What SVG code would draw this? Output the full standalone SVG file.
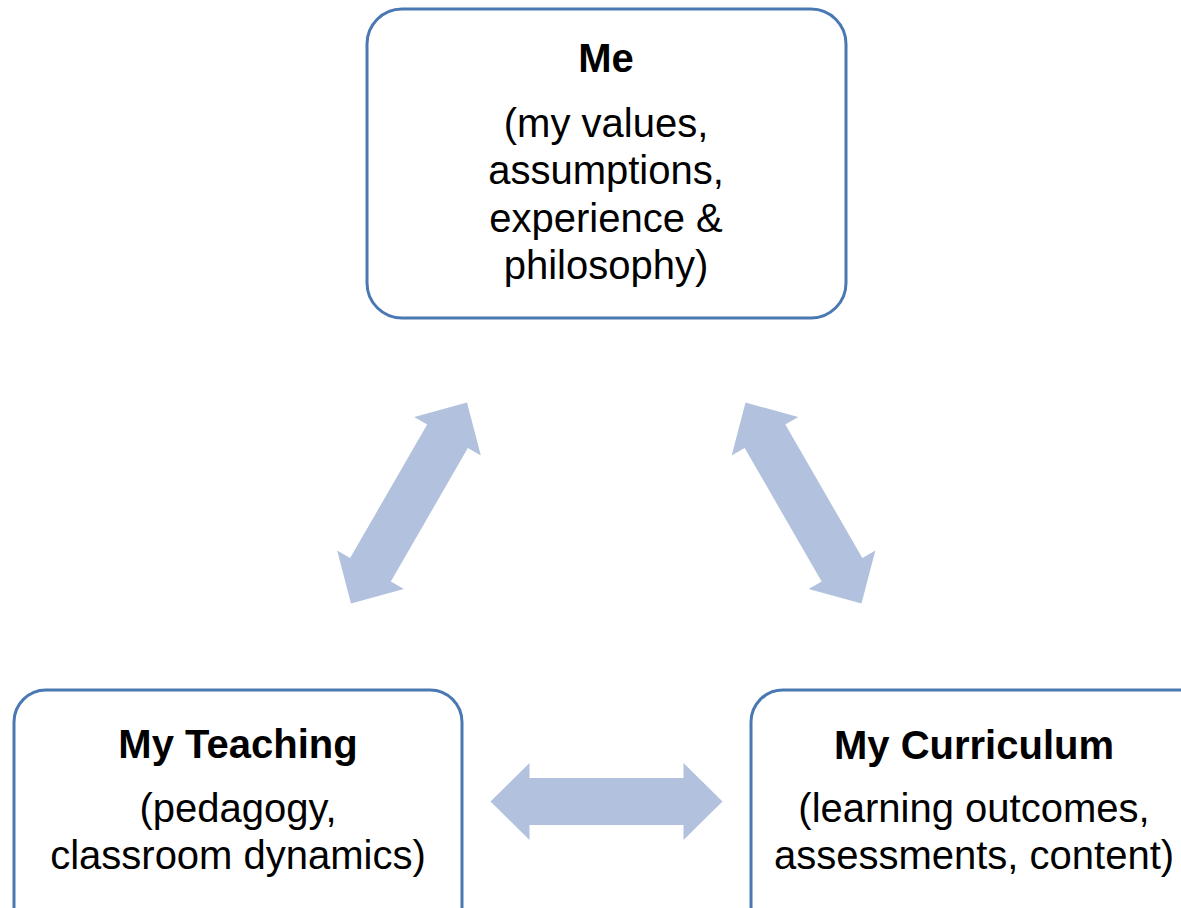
<svg xmlns="http://www.w3.org/2000/svg" width="1181" height="908" viewBox="0 0 1181 908">
<defs>
<style>
.box{fill:#ffffff;stroke:#4a78b2;stroke-width:3}
.arrow{fill:#b2c2de;stroke:none}
text{font-family:"Liberation Sans",Arial,sans-serif;font-size:40px;fill:#000;text-anchor:middle}
.title{font-weight:bold}
</style>
<path id="dbl" d="M-116,0 L-77,-38.5 L-77,-23.5 L77,-23.5 L77,-38.5 L116,0 L77,38.5 L77,23.5 L-77,23.5 L-77,38.5 Z"/>
</defs>
<rect width="1181" height="908" fill="#ffffff"/>
<g id="connectors">
<use href="#dbl" class="arrow" transform="translate(409,503) rotate(-60)"/>
<use href="#dbl" class="arrow" transform="translate(803.5,503) rotate(60)"/>
<use href="#dbl" class="arrow" transform="translate(606.5,801.5)"/>
</g>
<g id="me">
<rect class="box" x="367" y="9" width="479" height="309" rx="35"/>
<text class="title" x="606" y="72">Me</text>
<text x="606" y="137">(my values,</text>
<text x="606" y="184">assumptions,</text>
<text x="606" y="232">experience &amp;</text>
<text x="606" y="279">philosophy)</text>
</g>
<g id="teaching">
<rect class="box" x="14" y="690" width="448" height="250" rx="32"/>
<text class="title" x="238" y="758">My Teaching</text>
<text x="238" y="822">(pedagogy,</text>
<text x="238" y="869">classroom dynamics)</text>
</g>
<g id="curriculum">
<rect class="box" x="751" y="690" width="470" height="250" rx="32"/>
<text class="title" x="974" y="759">My Curriculum</text>
<text x="974" y="822">(learning outcomes,</text>
<text x="974" y="869">assessments, content)</text>
</g>
</svg>
